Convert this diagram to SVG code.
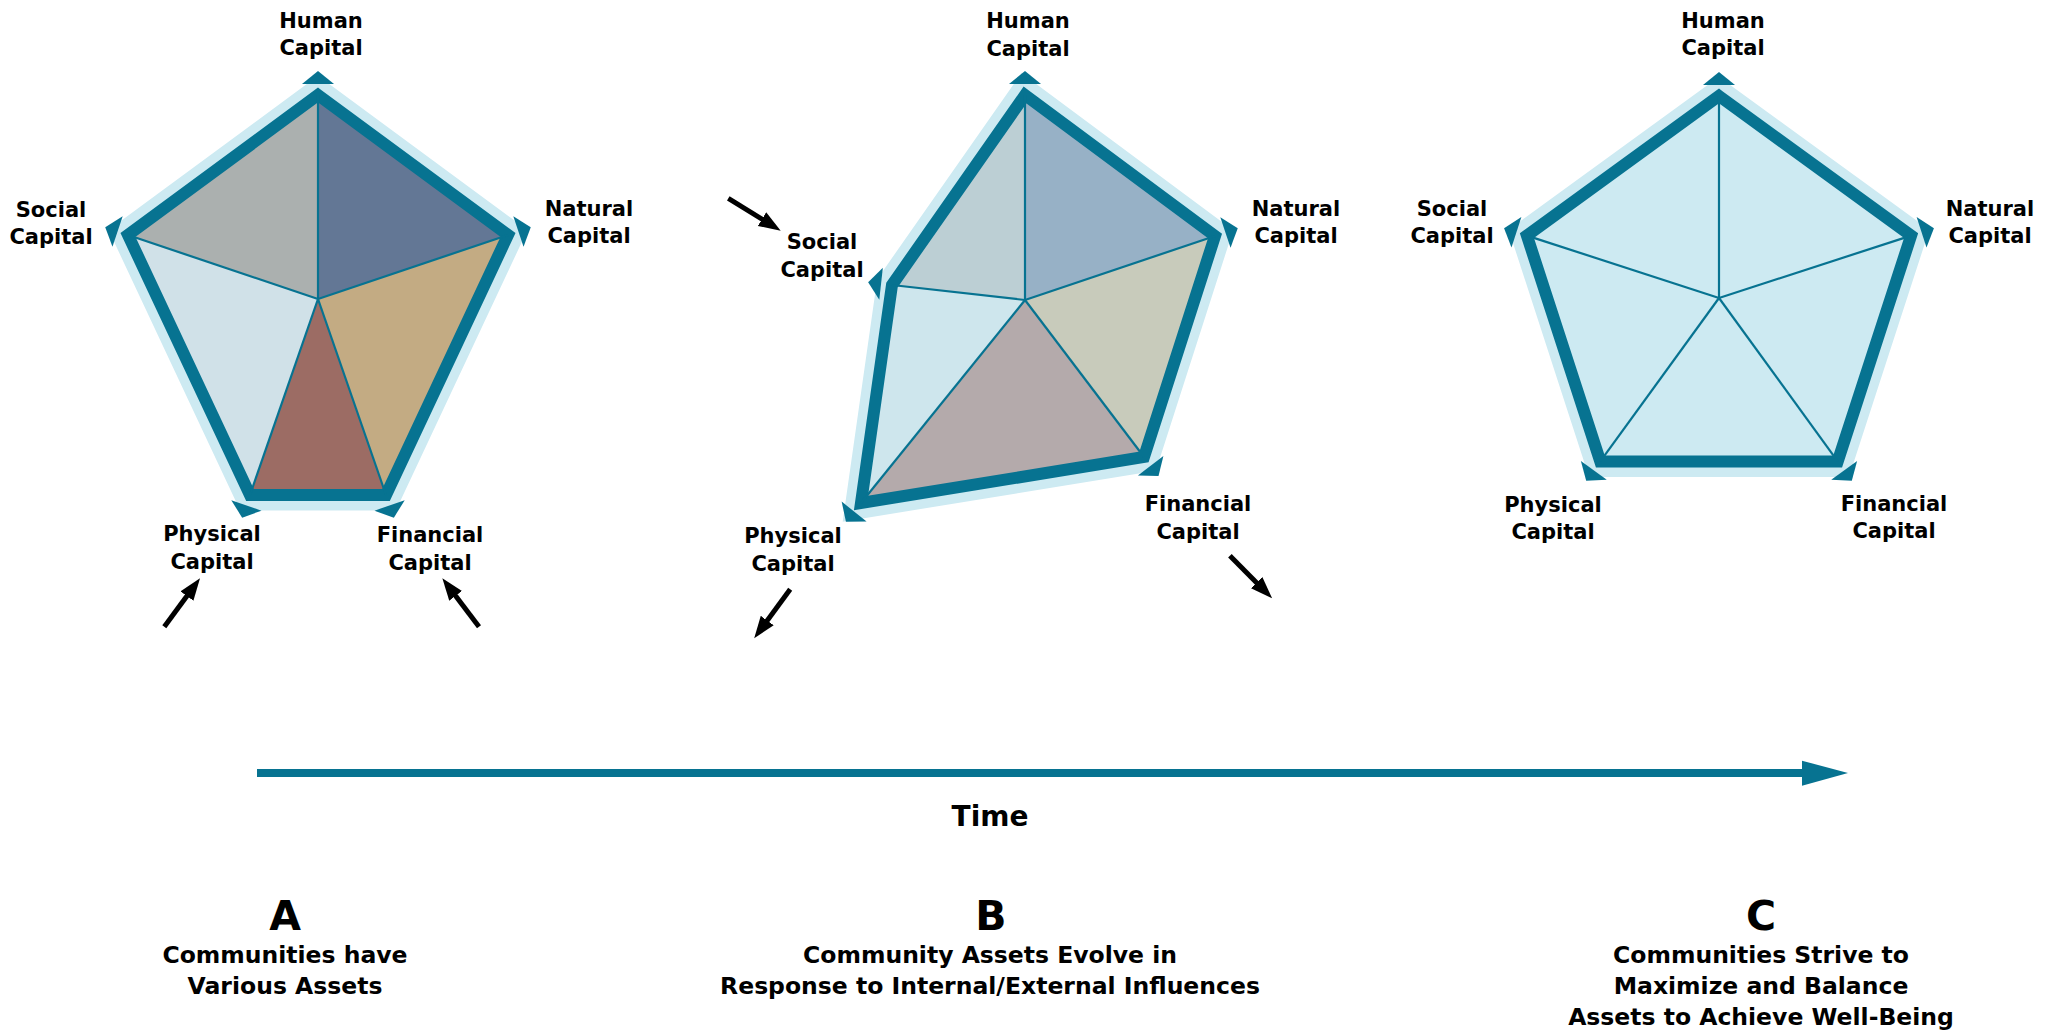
<svg xmlns="http://www.w3.org/2000/svg" xmlns:xlink="http://www.w3.org/1999/xlink" width="2047" height="1032" viewBox="0 0 2047 1032">
  <defs>
    <style>
      .band { fill: none; stroke: #cdeaf2; stroke-width: 31; stroke-linejoin: miter; }
      .outline { fill: none; stroke: #077391; stroke-width: 12; stroke-linejoin: miter; }
      .spoke { stroke: #077391; stroke-width: 2.2; }
      .ah { fill: #077391; }
      .lbl { font-family: "DejaVu Sans", "Liberation Sans", sans-serif; font-weight: bold; font-size: 21px; fill: #000; text-anchor: middle; }
      .letter { font-family: "DejaVu Sans", "Liberation Sans", sans-serif; font-weight: bold; font-size: 41px; fill: #000; text-anchor: middle; }
      .cap { font-family: "DejaVu Sans", "Liberation Sans", sans-serif; font-weight: bold; font-size: 23.5px; fill: #000; text-anchor: middle; }
      .time { font-family: "DejaVu Sans", "Liberation Sans", sans-serif; font-weight: bold; font-size: 28px; fill: #000; text-anchor: middle; }
      .infl { stroke: #000; stroke-width: 5; fill: none; marker-end: url(#blk); }
    </style>
    <path id="ah" d="M11,-16 L24,0 L11,16 Z"/>
    <marker id="blk" markerUnits="userSpaceOnUse" markerWidth="24" markerHeight="18" refX="8" refY="8" orient="auto" viewBox="0 0 24 18">
      <path d="M0,0 L22,8 L0,16 Z" fill="#000"/>
    </marker>
  </defs>
  <rect x="0" y="0" width="2047" height="1032" fill="#ffffff"/>

  <!-- Diagram A -->
  <g id="diagram-a">
    <polygon class="band" points="318,95 508,235 386,495 250,495 128,235"/>
    <g class="ah">
      <use xlink:href="#ah" href="#ah" transform="translate(318,95) rotate(-90)"/>
      <use xlink:href="#ah" href="#ah" transform="translate(508,235) rotate(-18.6)"/>
      <use xlink:href="#ah" href="#ah" transform="translate(386,495) rotate(70.9)"/>
      <use xlink:href="#ah" href="#ah" transform="translate(250,495) rotate(109.1)"/>
      <use xlink:href="#ah" href="#ah" transform="translate(128,235) rotate(-161.4)"/>
    </g>
    <polygon fill="#abb0af" points="318,299 318,95 128,235"/>
    <polygon fill="#637795" points="318,299 318,95 508,235"/>
    <polygon fill="#c3ab83" points="318,299 508,235 386,495"/>
    <polygon fill="#9c6c64" points="318,299 386,495 250,495"/>
    <polygon fill="#d0e1e8" points="318,299 250,495 128,235"/>
    <polygon class="outline" points="318,95 508,235 386,495 250,495 128,235"/>
    <g class="spoke">
      <line x1="318" y1="299" x2="318" y2="95"/>
      <line x1="318" y1="299" x2="508" y2="235"/>
      <line x1="318" y1="299" x2="386" y2="495"/>
      <line x1="318" y1="299" x2="250" y2="495"/>
      <line x1="318" y1="299" x2="128" y2="235"/>
    </g>
    <g id="a-labels">
      <text class="lbl" x="321" y="28">Human</text>
      <text class="lbl" x="321" y="55">Capital</text>
      <text class="lbl" x="51" y="217">Social</text>
      <text class="lbl" x="51" y="244">Capital</text>
      <text class="lbl" x="589" y="216">Natural</text>
      <text class="lbl" x="589" y="243">Capital</text>
      <text class="lbl" x="212" y="541">Physical</text>
      <text class="lbl" x="212" y="569">Capital</text>
      <text class="lbl" x="430" y="542">Financial</text>
      <text class="lbl" x="430" y="570">Capital</text>
    </g>
  </g>

  <!-- Diagram B -->
  <g id="diagram-b">
    <polygon class="band" points="1025,95 1215,236 1144,457 861,503 892,285"/>
    <g class="ah">
      <use xlink:href="#ah" href="#ah" transform="translate(1025,95) rotate(-90)"/>
      <use xlink:href="#ah" href="#ah" transform="translate(1215,236) rotate(-18.6)"/>
      <use xlink:href="#ah" href="#ah" transform="translate(1144,457) rotate(52.8)"/>
      <use xlink:href="#ah" href="#ah" transform="translate(861,503) rotate(128.9)"/>
      <use xlink:href="#ah" href="#ah" transform="translate(892,285) rotate(-173.6)"/>
    </g>
    <polygon fill="#bccfd4" points="1025,300 1025,95 892,285"/>
    <polygon fill="#97b1c6" points="1025,300 1025,95 1215,236"/>
    <polygon fill="#c8cbbb" points="1025,300 1215,236 1144,457"/>
    <polygon fill="#b4aaab" points="1025,300 1144,457 861,503"/>
    <polygon fill="#cee6ed" points="1025,300 861,503 892,285"/>
    <polygon class="outline" points="1025,95 1215,236 1144,457 861,503 892,285"/>
    <g class="spoke">
      <line x1="1025" y1="300" x2="1025" y2="95"/>
      <line x1="1025" y1="300" x2="1215" y2="236"/>
      <line x1="1025" y1="300" x2="1144" y2="457"/>
      <line x1="1025" y1="300" x2="861" y2="503"/>
      <line x1="1025" y1="300" x2="892" y2="285"/>
    </g>
    <g id="b-labels">
      <text class="lbl" x="1028" y="28">Human</text>
      <text class="lbl" x="1028" y="56">Capital</text>
      <text class="lbl" x="1296" y="216">Natural</text>
      <text class="lbl" x="1296" y="243">Capital</text>
      <text class="lbl" x="822" y="249">Social</text>
      <text class="lbl" x="822" y="277">Capital</text>
      <text class="lbl" x="793" y="543">Physical</text>
      <text class="lbl" x="793" y="571">Capital</text>
      <text class="lbl" x="1198" y="511">Financial</text>
      <text class="lbl" x="1198" y="539">Capital</text>
    </g>
  </g>

  <!-- Diagram C -->
  <g id="diagram-c">
    <polygon class="band" points="1719,96 1911.1,235.6 1837.7,461.4 1600.3,461.4 1526.9,235.6"/>
    <g class="ah">
      <use xlink:href="#ah" href="#ah" transform="translate(1719,96) rotate(-90)"/>
      <use xlink:href="#ah" href="#ah" transform="translate(1911.1,235.6) rotate(-18)"/>
      <use xlink:href="#ah" href="#ah" transform="translate(1837.7,461.4) rotate(54)"/>
      <use xlink:href="#ah" href="#ah" transform="translate(1600.3,461.4) rotate(126)"/>
      <use xlink:href="#ah" href="#ah" transform="translate(1526.9,235.6) rotate(198)"/>
    </g>
    <polygon fill="#cdeaf2" points="1719,96 1911.1,235.6 1837.7,461.4 1600.3,461.4 1526.9,235.6"/>
    <polygon class="outline" points="1719,96 1911.1,235.6 1837.7,461.4 1600.3,461.4 1526.9,235.6"/>
    <g class="spoke">
      <line x1="1719" y1="298" x2="1719" y2="96"/>
      <line x1="1719" y1="298" x2="1911.1" y2="235.6"/>
      <line x1="1719" y1="298" x2="1837.7" y2="461.4"/>
      <line x1="1719" y1="298" x2="1600.3" y2="461.4"/>
      <line x1="1719" y1="298" x2="1526.9" y2="235.6"/>
    </g>
    <g id="c-labels">
      <text class="lbl" x="1723" y="28">Human</text>
      <text class="lbl" x="1723" y="55">Capital</text>
      <text class="lbl" x="1452" y="216">Social</text>
      <text class="lbl" x="1452" y="243">Capital</text>
      <text class="lbl" x="1990" y="216">Natural</text>
      <text class="lbl" x="1990" y="243">Capital</text>
      <text class="lbl" x="1553" y="512">Physical</text>
      <text class="lbl" x="1553" y="539">Capital</text>
      <text class="lbl" x="1894" y="511">Financial</text>
      <text class="lbl" x="1894" y="538">Capital</text>
    </g>
  </g>

  <!-- Influence arrows and time axis -->
  <g id="connectors">
    <line class="infl" x1="164.3" y1="626.7" x2="191.7" y2="589.6"/>
    <line class="infl" x1="479" y1="626.7" x2="450.8" y2="589.5"/>
    <line class="infl" x1="728.3" y1="198.3" x2="768.8" y2="223.3"/>
    <line class="infl" x1="790.2" y1="589.3" x2="762.5" y2="627"/>
    <line class="infl" x1="1229.9" y1="555.7" x2="1262.3" y2="588.4"/>
    <g id="time-arrow">
      <rect x="257" y="769" width="1546" height="8" fill="#077391"/>
      <polygon points="1802,760.7 1848,773 1802,785.7" fill="#077391"/>
    </g>
  </g>

  <g id="captions">
    <text class="time" x="990" y="826">Time</text>
    <text class="letter" x="285" y="930">A</text>
    <text class="cap" x="285" y="963">Communities have</text>
    <text class="cap" x="285" y="994">Various Assets</text>
    <text class="letter" x="991" y="930">B</text>
    <text class="cap" x="990" y="963">Community Assets Evolve in</text>
    <text class="cap" x="990" y="994">Response to Internal/External Influences</text>
    <text class="letter" x="1761" y="930">C</text>
    <text class="cap" x="1761" y="963">Communities Strive to</text>
    <text class="cap" x="1761" y="994">Maximize and Balance</text>
    <text class="cap" x="1761" y="1025">Assets to Achieve Well-Being</text>
  </g>
</svg>
